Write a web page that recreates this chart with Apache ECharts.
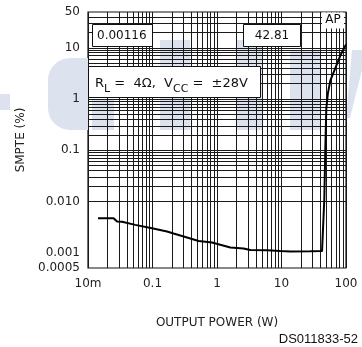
<!DOCTYPE html>
<html><head><meta charset="utf-8">
<script src="https://cdn.jsdelivr.net/npm/echarts@6/dist/echarts.min.js"></script>
<style>html,body{margin:0;padding:0;background:#fff}#c{width:362px;height:347px}</style>
</head><body><div id="c"></div>
<script>
const power = [0.0143,0.0249,0.0282,0.0337,0.0541,0.0982,0.168,0.212,0.323,0.519,0.836,1.20,1.61,2.58,3.28,5.96,9.57,13.7,27.9,42.5,46.1,47.8,49.5,52.3,57.1,65.9,81.7,100];
const smpte = [0.0047,0.0047,0.00405,0.0040,0.00348,0.0030,0.00258,0.00236,0.00202,0.00169,0.00157,0.00139,0.00126,0.0012,0.00112,0.00111,0.00107,0.00105,0.00106,0.00107,0.011,0.106,0.65,1.27,2.29,3.59,7.06,11.6];
const xTicks = [0.01,0.1,1,10,100];
const xTickLabels = ['10m','0.1','1','10','100'];
const yTicks = [0.0005,0.001,0.01,0.1,1,10,50];
const yTickLabels = ['0.0005','0.001','0.010','0.1','1','10','50'];
const xMinor = [0.02,0.03,0.04,0.05,0.06,0.07,0.08,0.09,0.2,0.3,0.4,0.5,0.6,0.7,0.8,0.9,2,3,4,5,6,7,8,9,20,30,40,50,60,70,80,90];
const yMinor = [0.0006,0.0007,0.0008,0.0009,0.002,0.003,0.004,0.005,0.006,0.007,0.008,0.009,0.02,0.03,0.04,0.05,0.06,0.07,0.08,0.09,0.2,0.3,0.4,0.5,0.6,0.7,0.8,0.9,2,3,4,5,6,7,8,9,20,30,40];
const boxTexts = ['0.00116','42.81','AP'];

function lookup(v, ticks, labels){
  for (let i=0;i<ticks.length;i++){ if (Math.abs(Math.log10(v)-Math.log10(ticks[i]))<0.01) return labels[i]; }
  return '';
}
const gridColor = '#1a1a1a';
const chart = echarts.init(document.getElementById('c'), null, {renderer:'canvas'});
const gridLines = [];
xMinor.concat(xTicks).forEach(v=>gridLines.push({xAxis:v}));
yMinor.concat([0.001,0.01,0.1,1,10]).forEach(v=>gridLines.push({yAxis:v}));
const wm = '#dce3ef';
chart.setOption({
  animation:false,
  grid:{left:88,right:16,top:12,bottom:79,show:true,borderColor:'#111',borderWidth:1.2,backgroundColor:'transparent'},
  xAxis:{type:'log',logBase:10,min:0.01,max:100,
    name:'OUTPUT POWER (W)',nameLocation:'middle',nameGap:49,
    nameTextStyle:{fontFamily:'DejaVu Sans',fontSize:12,color:'#222'},
    axisLine:{show:false},axisTick:{show:false},splitLine:{show:false},
    axisLabel:{margin:10,fontFamily:'DejaVu Sans',fontSize:12,color:'#222',
      formatter:v=>lookup(v,xTicks,xTickLabels)}},
  yAxis:{type:'log',logBase:10,min:0.0005,max:50,
    name:'SMPTE (%)',nameLocation:'middle',nameGap:50,nameRotate:90,
    nameTextStyle:{fontFamily:'DejaVu Sans',fontSize:12,color:'#222'},
    axisLine:{show:false},axisTick:{show:false},splitLine:{show:false},
    axisLabel:{margin:8,fontFamily:'DejaVu Sans',fontSize:12,color:'#222',
      formatter:v=>lookup(v,yTicks,yTickLabels)}},
  graphic:[
    {type:'group',zlevel:-1,z:0,children:[
      {type:'rect',shape:{x:48,y:58,width:40,height:72,r:[22,0,0,22]},style:{fill:wm}},
      {type:'rect',shape:{x:0,y:94,width:10,height:16},style:{fill:wm}},
      {type:'polygon',shape:{points:[[352,50],[362,50],[362,70],[350,118],[346,118]]},style:{fill:wm}},
      {type:'rect',shape:{x:92,y:100,width:22,height:30},style:{fill:wm}},
      {type:'rect',shape:{x:160,y:40,width:30,height:90},style:{fill:wm}},
      {type:'rect',shape:{x:236,y:40,width:26,height:90},style:{fill:wm}},
      {type:'rect',shape:{x:290,y:50,width:30,height:80},style:{fill:wm}}
    ]},
    {type:'rect',z:100,shape:{x:92.5,y:24.5,width:60,height:22},style:{fill:'#fff',stroke:'#111',lineWidth:1}},
    {type:'text',z:101,x:97,y:35.5,style:{text:boxTexts[0],fontFamily:'DejaVu Sans',fontSize:12,fill:'#111',textVerticalAlign:'middle'}},
    {type:'rect',z:100,shape:{x:243.5,y:24.5,width:57,height:22},style:{fill:'#fff',stroke:'#111',lineWidth:1}},
    {type:'text',z:101,x:272,y:35.5,style:{text:boxTexts[1],fontFamily:'DejaVu Sans',fontSize:12,fill:'#111',textAlign:'center',textVerticalAlign:'middle'}},
    {type:'rect',z:100,shape:{x:322,y:12.5,width:22,height:16},style:{fill:'#fff'}},
    {type:'text',z:101,x:333,y:20,style:{text:boxTexts[2],fontFamily:'DejaVu Sans',fontSize:12,fill:'#111',textAlign:'center',textVerticalAlign:'middle'}},
    {type:'rect',z:100,shape:{x:88.5,y:66.5,width:172,height:31},style:{fill:'#fff',stroke:'#111',lineWidth:1}},
    {type:'text',z:101,x:95,y:82,style:{
      text:'{m|R}{s|L}{m| =  4Ω,  V}{s|CC}{m| =  ±28V}',
      rich:{m:{fontFamily:'DejaVu Sans',fontSize:13,fill:'#111',verticalAlign:'bottom',lineHeight:16},
            s:{fontFamily:'DejaVu Sans',fontSize:11,fill:'#111',verticalAlign:'bottom',lineHeight:16,padding:[0,0,-5,0]}},
      textVerticalAlign:'middle'}},
    {type:'text',z:101,right:4,top:333,style:{text:'DS011833-52',fontFamily:'Liberation Sans',fontSize:13,fill:'#111'}}
  ],
  series:[
    {type:'line',z:10,data:[],silent:true,
      markLine:{silent:true,symbol:['none','none'],label:{show:false},animation:false,
        lineStyle:{color:gridColor,width:1,type:'solid'},data:gridLines}},
    {type:'line',z:20,data:power.map((p,i)=>[p,smpte[i]]),showSymbol:false,symbol:'none',
      lineStyle:{color:'#000',width:2},smooth:false}
  ]
});
</script></body></html>
